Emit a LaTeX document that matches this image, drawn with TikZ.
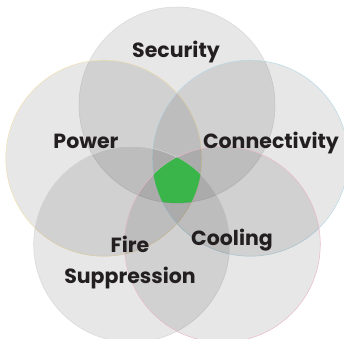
\documentclass[tikz,border=0pt]{standalone}
\usepackage{fontspec}
\setmainfont{Poppins}
\definecolor{txt}{HTML}{231F20}
\definecolor{grn}{HTML}{39B54A}
\definecolor{edgeY}{HTML}{F1DFAF}
\definecolor{edgeB}{HTML}{B7D8E6}
\definecolor{edgeP}{HTML}{E9B9CB}
\definecolor{edgeG}{HTML}{D6D7D9}
\tikzset{
  petal/.style={fill=black, fill opacity=0.095, draw=#1, line width=0.5pt},
  lbl/.style={text=txt, font=\fontsize{20.5}{24}\selectfont\bfseries, anchor=base, inner sep=0pt}
}
\begin{document}
\begin{tikzpicture}[x=1pt,y=-1pt]
\useasboundingbox (0,0) rectangle (344,338);
\coordinate (cs) at (177,105);
\coordinate (cp) at (103.8,158.2);
\coordinate (cc) at (250.2,158.2);
\coordinate (cf) at (131.7,244.3);
\coordinate (cl) at (222.3,244.3);
\fill[white] (0,0) rectangle (344,338);
\path[petal=edgeG] (cs) circle (98pt);
\path[petal=edgeY] (cp) circle (98pt);
\path[petal=edgeB] (cc) circle (98pt);
\path[petal=edgeG] (cf) circle (98pt);
\path[petal=edgeP] (cl) circle (98pt);
\begin{scope}
\clip (cs) circle (98pt);
\clip (cp) circle (98pt);
\clip (cc) circle (98pt);
\clip (cf) circle (98pt);
\clip (cl) circle (98pt);
\fill[grn] (100,100) rectangle (250,250);
\end{scope}
\node[lbl] (security) at (176,57) {Security};
\node[lbl] (power) at (86,148) {Power};
\node[lbl] (connectivity) at (271,148) {Connectivity};
\node[lbl] (fire) at (130,252) {Fire};
\node[lbl] (suppression) at (130,283) {Suppression};
\node[lbl] (cooling) at (232,245) {Cooling};
\end{tikzpicture}
\end{document}
